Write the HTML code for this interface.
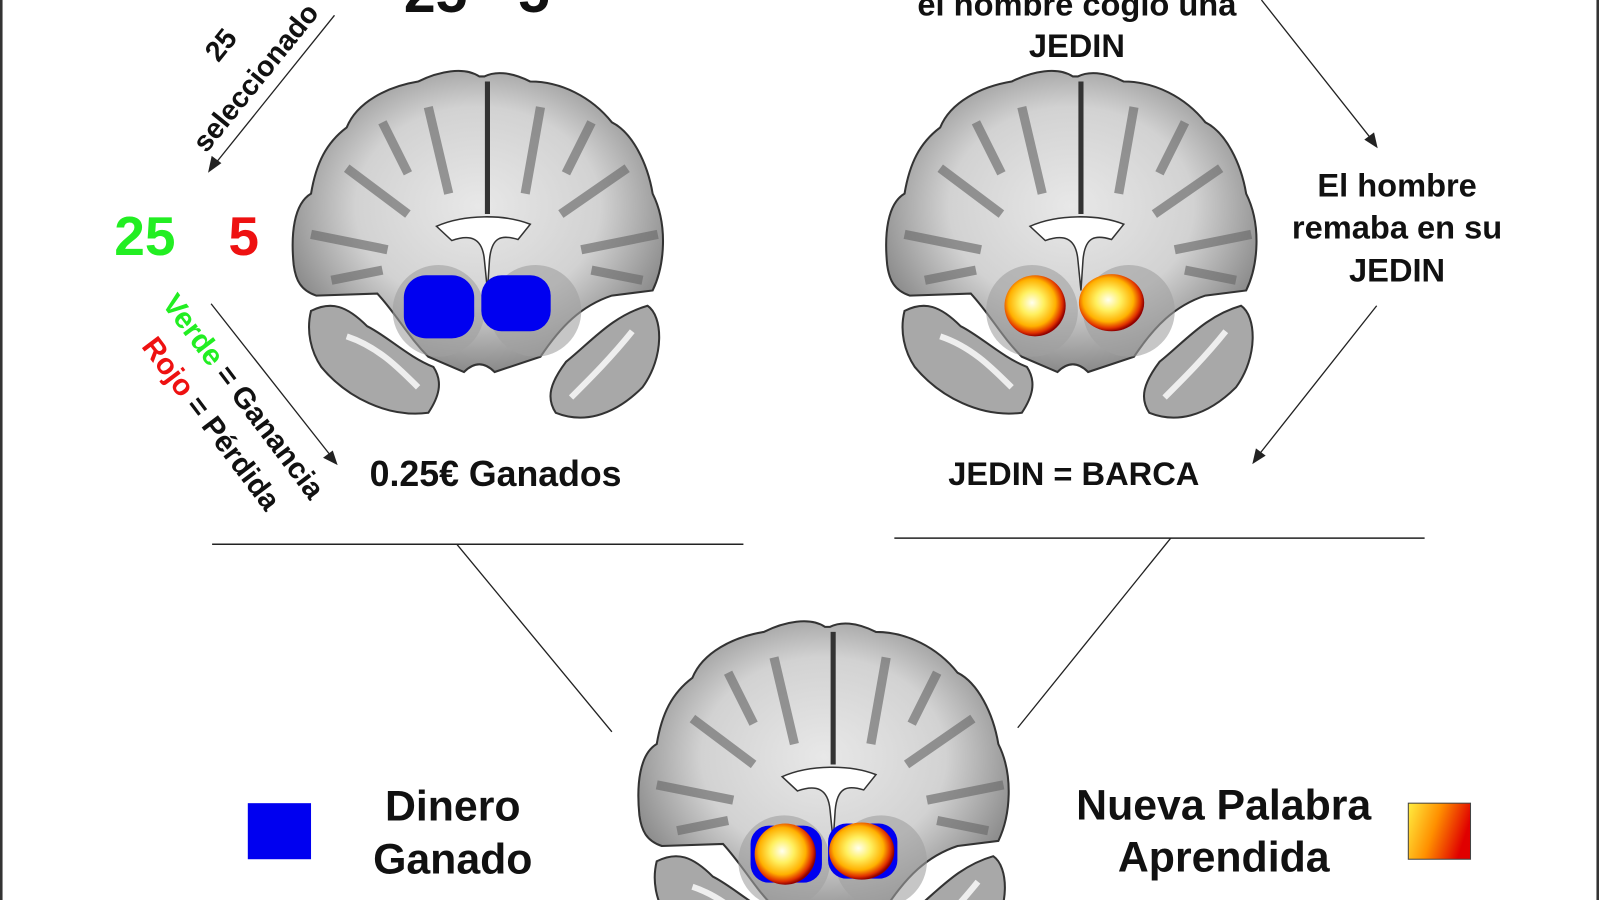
<!DOCTYPE html>
<html><head><meta charset="utf-8"><style>
html,body{margin:0;padding:0;background:#fff;}
body{width:1599px;height:900px;overflow:hidden;position:relative;}
svg{position:absolute;left:0;top:0;overflow:hidden;}
text{font-family:"Liberation Sans",sans-serif;font-weight:bold;}
</style></head><body>
<svg width="1599" height="900" viewBox="0 0 1568 883" preserveAspectRatio="none">
<defs>
<radialGradient id="wm" cx="50%" cy="45%" r="55%">
<stop offset="0" stop-color="#e8e8e8"/><stop offset="0.6" stop-color="#d2d2d2"/><stop offset="1" stop-color="#8a8a8a"/>
</radialGradient>
<radialGradient id="hot" cx="45%" cy="45%" r="55%">
<stop offset="0" stop-color="#fffff0"/><stop offset="0.35" stop-color="#fff060"/><stop offset="0.7" stop-color="#ffb000"/><stop offset="0.9" stop-color="#e03000"/><stop offset="1" stop-color="#900000"/>
</radialGradient>
<linearGradient id="leg" x1="0" x2="1" y1="0" y2="0.3">
<stop offset="0" stop-color="#ffee40"/><stop offset="0.5" stop-color="#ff9000"/><stop offset="1" stop-color="#e00000"/>
</linearGradient>
<g id="brain">
<path d="M190,15 C175,5 150,10 130,20 C100,25 70,40 60,65 C40,80 30,100 25,130 C8,140 5,170 8,200 C10,215 15,225 30,230 L90,228 C110,250 120,270 140,290 L175,305 C185,295 195,295 205,305 L250,290 C270,260 290,240 320,230 L360,225 C372,200 375,160 360,130 C355,100 340,70 320,60 C300,35 270,20 240,20 C220,10 205,10 195,15 Z" fill="url(#wm)" stroke="#333" stroke-width="2"/>
<path d="M25,245 C45,235 60,240 80,260 C100,270 120,290 145,300 C155,315 150,330 140,345 C100,350 60,330 35,300 C25,285 20,265 25,245 Z" fill="#a8a8a8" stroke="#333" stroke-width="2"/>
<path d="M355,240 C370,250 372,290 350,320 C320,350 290,355 265,345 C255,330 260,315 275,295 C300,275 320,250 355,240Z" fill="#a8a8a8" stroke="#333" stroke-width="2"/>
<path d="M60,270 C90,280 110,300 130,320 M340,265 C320,290 300,310 280,330" stroke="#eee" stroke-width="6" fill="none"/>
<path d="M198,20 L198,150" stroke="#333" stroke-width="5"/>
<path d="M140,45 L160,130 M250,45 L235,130 M95,60 L120,110 M300,60 L275,110 M60,105 L120,150 M335,105 L270,150 M25,170 L100,185 M365,170 L290,185 M45,215 L95,205 M350,215 L300,205" stroke="#6a6a6a" stroke-width="9" fill="none" opacity="0.65"/>
<ellipse cx="150" cy="245" rx="45" ry="45" fill="#a0a0a0" opacity="0.6"/>
<ellipse cx="245" cy="245" rx="45" ry="45" fill="#a0a0a0" opacity="0.6"/>
<path d="M148,162 C175,150 215,150 240,160 L228,175 C212,170 202,172 200,195 L198,225 L195,195 C193,172 180,170 163,176 Z" fill="#fff" stroke="#333" stroke-width="1.5"/>
</g>
</defs>
<rect x="0" y="0" width="2.5" height="883" fill="#333"/>
<rect x="1565.5" y="0" width="2.5" height="883" fill="#333"/>

<use href="#brain" transform="translate(280,60)"/>
<rect x="396" y="270" width="69" height="62" rx="22" fill="#0000f0"/>
<rect x="472" y="270" width="68" height="55" rx="20" fill="#0000f0"/>

<use href="#brain" transform="translate(862,60)"/>
<ellipse cx="1015" cy="300" rx="30" ry="30" fill="url(#hot)"/>
<ellipse cx="1090" cy="297" rx="32" ry="28" fill="url(#hot)"/>

<use href="#brain" transform="translate(619,600)"/>
<rect x="736" y="810" width="70" height="56" rx="18" fill="#0000f0"/>
<rect x="812" y="808" width="68" height="54" rx="18" fill="#0000f0"/>
<ellipse cx="770" cy="838" rx="30" ry="30" fill="url(#hot)"/>
<ellipse cx="845" cy="835" rx="32" ry="28" fill="url(#hot)"/>

<g stroke="#222" stroke-width="1.3" fill="#222">
<line x1="328" y1="15" x2="210" y2="162"/><polygon points="205,168 208,154 216,160"/>
<line x1="207" y1="298" x2="325" y2="448"/><polygon points="330,455 318,449 326,443"/>
<line x1="1237" y1="0" x2="1346" y2="138"/><polygon points="1350,144 1339,137 1347,131"/>
<line x1="1350" y1="300" x2="1233" y2="448"/><polygon points="1229,454 1232,441 1240,447"/>
<line x1="208" y1="534" x2="729" y2="534" stroke-width="1.5"/>
<line x1="877" y1="528" x2="1397" y2="528" stroke-width="1.5"/>
<line x1="448" y1="534" x2="600" y2="718"/>
<line x1="1148" y1="528" x2="998" y2="714"/>
</g>

<text x="396" y="12" font-size="56" fill="#111">25</text>
<text x="508" y="12" font-size="56" fill="#111">5</text>
<text transform="translate(224,50) rotate(-51)" font-size="28" text-anchor="middle" fill="#111">25</text>
<text transform="translate(258,82) rotate(-51)" font-size="28" text-anchor="middle" fill="#111">seleccionado</text>
<text x="112" y="250" font-size="54" fill="#22ee22">25</text>
<text x="224" y="250" font-size="54" fill="#ee1111">5</text>
<text transform="translate(158,298) rotate(53)" font-size="29" fill="#111"><tspan fill="#22ee22">Verde</tspan> = Ganancia</text>
<text transform="translate(138,340) rotate(53)" font-size="29" fill="#111"><tspan fill="#ee1111">Rojo</tspan> = Pérdida</text>
<text x="486" y="477" font-size="35" text-anchor="middle" fill="#111">0.25€ Ganados</text>

<text x="1056" y="15" font-size="32" text-anchor="middle" fill="#111">el hombre cogio una</text>
<text x="1056" y="56" font-size="32" text-anchor="middle" fill="#111">JEDIN</text>
<text x="1370" y="193" font-size="32" text-anchor="middle" fill="#111">El hombre</text>
<text x="1370" y="234" font-size="32" text-anchor="middle" fill="#111">remaba en su</text>
<text x="1370" y="276" font-size="32" text-anchor="middle" fill="#111">JEDIN</text>
<text x="1053" y="476" font-size="32" text-anchor="middle" fill="#111">JEDIN = BARCA</text>

<rect x="243" y="788" width="62" height="55" fill="#0000f0"/>
<text x="444" y="805" font-size="42" text-anchor="middle" fill="#111">Dinero</text>
<text x="444" y="857" font-size="42" text-anchor="middle" fill="#111">Ganado</text>
<text x="1200" y="804" font-size="42" text-anchor="middle" fill="#111">Nueva Palabra</text>
<text x="1200" y="855" font-size="42" text-anchor="middle" fill="#111">Aprendida</text>
<rect x="1381" y="788" width="61" height="55" fill="url(#leg)" stroke="#444" stroke-width="1"/>
</svg>
</body></html>
